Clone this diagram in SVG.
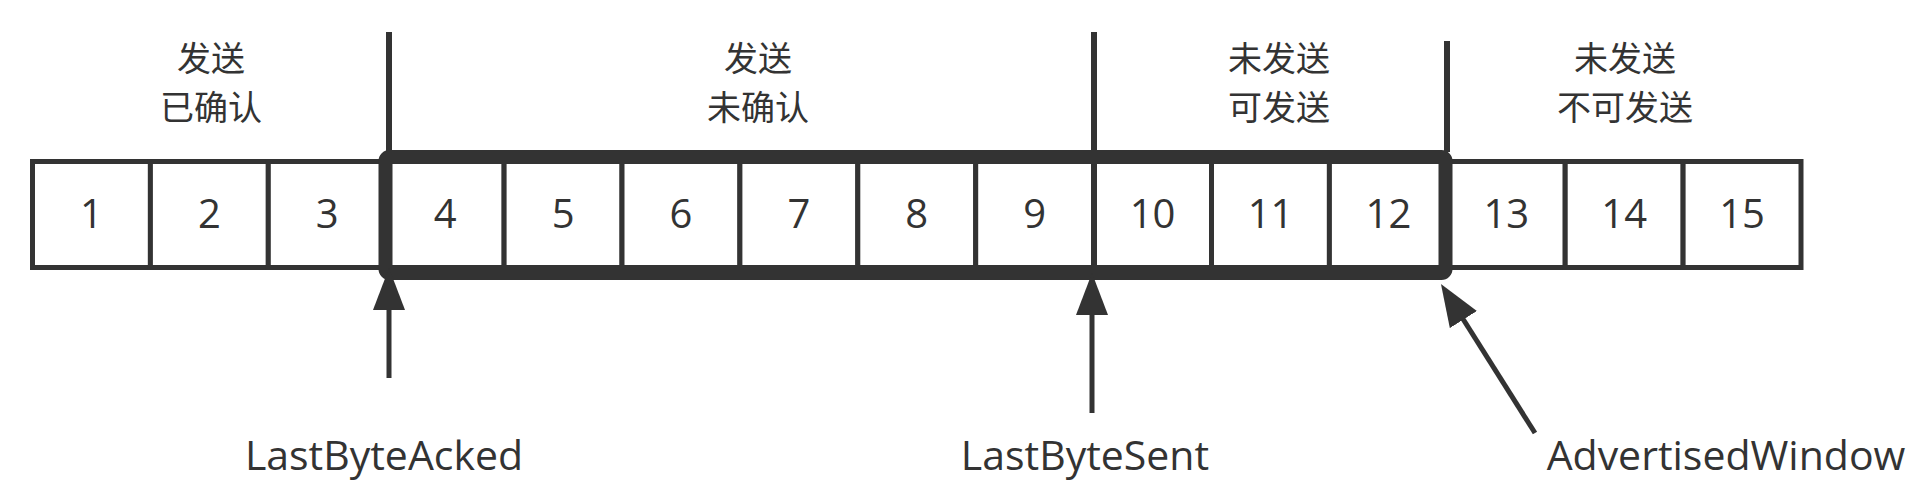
<svg xmlns="http://www.w3.org/2000/svg" width="1926" height="494" viewBox="0 0 1926 494">
<style>
  .cell { fill: #ffffff; stroke: #333333; stroke-width: 5; }
  .num { font-family: "Open Sans", "Noto Sans CJK SC", sans-serif; font-size: 40px; fill: #333333; text-anchor: middle; }
  .cjk { font-family: "Noto Sans CJK SC", sans-serif; font-size: 34px; fill: #333333; text-anchor: middle; }
  .lbl { font-family: "Open Sans", "Noto Sans CJK SC", sans-serif; font-size: 41px; fill: #333333; text-anchor: middle; }
  .sep { stroke: #333333; stroke-width: 6; fill: none; }
  .win { fill: none; stroke: #333333; stroke-width: 14; }
  .arrow { stroke: #333333; stroke-width: 5; fill: none; marker-end: url(#head); }
</style>
<defs>
  <marker id="head" viewBox="0 0 42 32" refX="32" refY="16" markerWidth="42" markerHeight="32" markerUnits="userSpaceOnUse" orient="auto">
    <path d="M0,0 L42,16 L0,32 Z" fill="#333333"/>
  </marker>
</defs>
<rect width="1926" height="494" fill="#ffffff"/>

<g id="cells">
  <g id="cell1"><rect class="cell" x="32.5" y="161.5" width="117.9" height="106"/><text class="num" x="91.5" y="228">1</text></g>
  <g id="cell2"><rect class="cell" x="150.4" y="161.5" width="117.9" height="106"/><text class="num" x="209.4" y="228">2</text></g>
  <g id="cell3"><rect class="cell" x="268.3" y="161.5" width="117.9" height="106"/><text class="num" x="327.3" y="228">3</text></g>
  <g id="cell4"><rect class="cell" x="386.2" y="161.5" width="117.9" height="106"/><text class="num" x="445.2" y="228">4</text></g>
  <g id="cell5"><rect class="cell" x="504.1" y="161.5" width="117.9" height="106"/><text class="num" x="563.1" y="228">5</text></g>
  <g id="cell6"><rect class="cell" x="622" y="161.5" width="117.9" height="106"/><text class="num" x="681" y="228">6</text></g>
  <g id="cell7"><rect class="cell" x="739.9" y="161.5" width="117.9" height="106"/><text class="num" x="798.9" y="228">7</text></g>
  <g id="cell8"><rect class="cell" x="857.8" y="161.5" width="117.9" height="106"/><text class="num" x="916.8" y="228">8</text></g>
  <g id="cell9"><rect class="cell" x="975.7" y="161.5" width="117.9" height="106"/><text class="num" x="1034.7" y="228">9</text></g>
  <g id="cell10"><rect class="cell" x="1093.6" y="161.5" width="117.9" height="106"/><text class="num" x="1152.6" y="228">10</text></g>
  <g id="cell11"><rect class="cell" x="1211.5" y="161.5" width="117.9" height="106"/><text class="num" x="1270.5" y="228">11</text></g>
  <g id="cell12"><rect class="cell" x="1329.4" y="161.5" width="117.9" height="106"/><text class="num" x="1388.4" y="228">12</text></g>
  <g id="cell13"><rect class="cell" x="1447.3" y="161.5" width="117.9" height="106"/><text class="num" x="1506.3" y="228">13</text></g>
  <g id="cell14"><rect class="cell" x="1565.2" y="161.5" width="117.9" height="106"/><text class="num" x="1624.2" y="228">14</text></g>
  <g id="cell15"><rect class="cell" x="1683.1" y="161.5" width="117.9" height="106"/><text class="num" x="1742.1" y="228">15</text></g>
</g>

<g id="window">
  <rect class="win" x="385.5" y="157" width="1060" height="116" rx="4"/>
</g>

<g id="separators">
  <line class="sep" x1="389" y1="32" x2="389" y2="152"/>
  <line class="sep" x1="1094" y1="32" x2="1094" y2="268"/>
  <line class="sep" x1="1447" y1="41" x2="1447" y2="152"/>
</g>

<g id="region-acked">
  <text class="cjk" x="211" y="70.5">发送</text>
  <text class="cjk" x="211" y="120">已确认</text>
</g>
<g id="region-unacked">
  <text class="cjk" x="758" y="70.5">发送</text>
  <text class="cjk" x="758" y="120">未确认</text>
</g>
<g id="region-sendable">
  <text class="cjk" x="1279" y="70.5">未发送</text>
  <text class="cjk" x="1279" y="120">可发送</text>
</g>
<g id="region-unsendable">
  <text class="cjk" x="1625" y="70.5">未发送</text>
  <text class="cjk" x="1625" y="120">不可发送</text>
</g>

<g id="connectors">
  <line class="arrow" x1="389" y1="378" x2="389" y2="278"/>
  <line class="arrow" x1="1092" y1="413" x2="1092" y2="283"/>
  <line class="arrow" x1="1535" y1="433" x2="1446.3" y2="292.5"/>
</g>

<g id="label-lastbyteacked"><text class="lbl" x="384" y="470">LastByteAcked</text></g>
<g id="label-lastbytesent"><text class="lbl" x="1085" y="470">LastByteSent</text></g>
<g id="label-advertisedwindow"><text class="lbl" x="1726" y="470">AdvertisedWindow</text></g>
</svg>
